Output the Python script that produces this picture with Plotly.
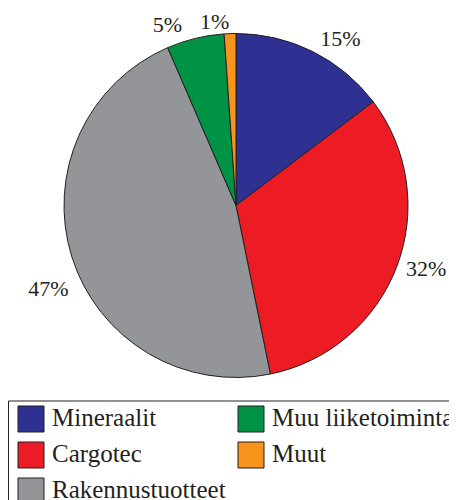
import plotly.graph_objects as go

W, H = 457, 500
OFF_X, OFF_Y = 8, 8  # the page body puts the figure 8px in from the corner

labels = ["Mineraalit", "Cargotec", "Rakennustuotteet", "Muu liiketoiminta", "Muut"]
shares = [14.7, 32.1, 46.7, 5.4, 1.1]
colors = ["#2E3192", "#ED1C24", "#939598", "#009245", "#F7941D"]

FONT = "Liberation Serif, Times New Roman, serif"
INK = "#231F20"
CX, CY, R = 236, 205.5, 172  # pie centre and radius in screen pixels


def px_x(v):
    return (v - OFF_X) / W


def px_y(v):
    return 1 - (v - OFF_Y) / H


def box(radius):
    return dict(x=[px_x(CX - radius), px_x(CX + radius)],
                y=[px_y(CY + radius), px_y(CY - radius)])


def label_layer(show, radius, rotation):
    # see-through copy of the pie that only carries some percentage labels
    return go.Pie(
        labels=labels,
        values=shares,
        sort=False,
        direction="clockwise",
        rotation=rotation,
        marker=dict(colors=["rgba(0,0,0,0)"] * len(labels), line=dict(width=0)),
        texttemplate="%{percent:.0%}",
        textposition=["outside" if i in show else "none" for i in range(len(labels))],
        outsidetextfont=dict(family=FONT, size=22, color=INK),
        domain=box(radius),
        showlegend=False,
        hoverinfo="skip",
    )


fig = go.Figure()
fig.add_trace(go.Pie(
    labels=labels,
    values=shares,
    sort=False,
    direction="clockwise",
    marker=dict(colors=colors, line=dict(color=INK, width=1)),
    textinfo="none",
    domain=box(R),
    showlegend=False,
    hoverinfo="label+percent",
))
fig.add_trace(label_layer([0, 1], 175, 0))
fig.add_trace(label_layer([2], 180, -9))
fig.add_trace(label_layer([3], 176, -2))
fig.add_trace(label_layer([4], 172, 1.8))

# legend drawn by hand: two columns, three rows, large swatches
shapes = [
    dict(type="rect", xref="paper", yref="paper",
         x0=px_x(8.5), x1=px_x(480), y0=px_y(401), y1=px_y(530),
         line=dict(color=INK, width=1), fillcolor="white", layer="below"),
]
annotations = []
for i, (name, col) in enumerate(zip(labels, colors)):
    c, r = divmod(i, 3)
    x0 = 18 + c * 220
    y0 = 406 + r * 36
    shapes.append(dict(type="rect", xref="paper", yref="paper",
                       x0=px_x(x0), x1=px_x(x0 + 26), y0=px_y(y0 + 26), y1=px_y(y0),
                       line=dict(color=INK, width=1), fillcolor=col))
    annotations.append(dict(xref="paper", yref="paper", x=px_x(x0 + 32), y=px_y(y0 + 11),
                            xanchor="left", yanchor="middle", showarrow=False,
                            text=name, font=dict(family=FONT, size=25, color=INK)))

fig.update_layout(
    width=W,
    height=H,
    margin=dict(l=0, r=0, t=0, b=0, autoexpand=False),
    paper_bgcolor="white",
    plot_bgcolor="white",
    shapes=shapes,
    annotations=annotations,
)

fig.write_html("out.html")
